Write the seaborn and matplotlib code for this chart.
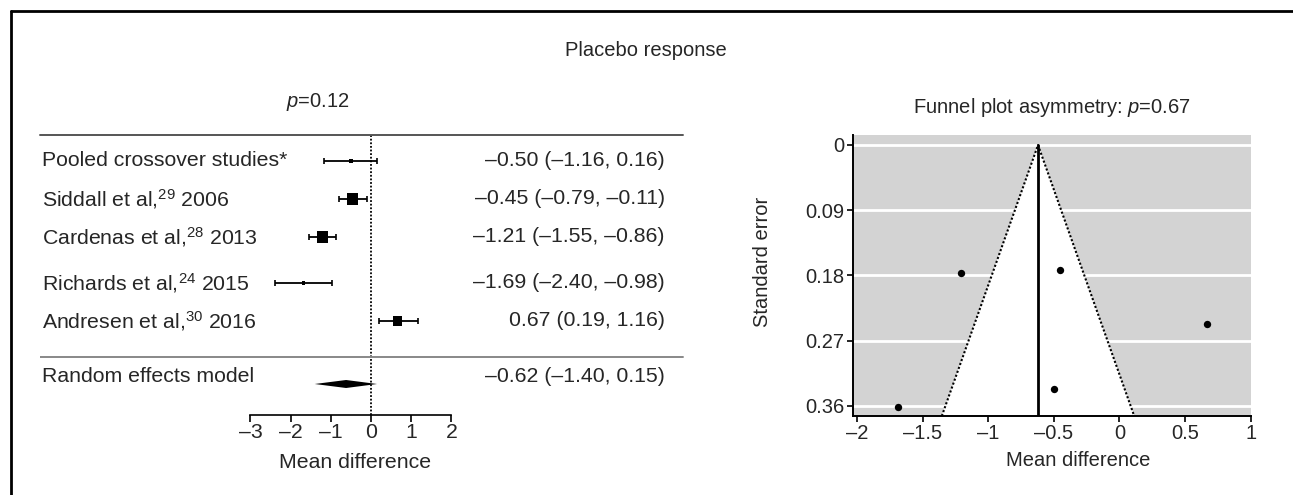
import numpy as np
import pandas as pd
import matplotlib.pyplot as plt
import seaborn as sns
from matplotlib.lines import Line2D

sns.set_theme(style="white")
plt.rcParams['font.family'] = ['Liberation Sans', 'DejaVu Sans']
plt.rcParams['mathtext.fontset'] = 'custom'
plt.rcParams['mathtext.rm'] = 'Liberation Sans'
plt.rcParams['mathtext.it'] = 'Liberation Sans:italic'

# --- dados ---
studies = ["Pooled crossover studies*",
           r"Siddall et al,$^{\mathregular{29}}$ 2006",
           r"Cardenas et al,$^{\mathregular{28}}$ 2013",
           r"Richards et al,$^{\mathregular{24}}$ 2015",
           r"Andresen et al,$^{\mathregular{30}}$ 2016"]
mean_diff = [-0.50, -0.45, -1.21, -1.69, 0.67]
ci_low = [-1.16, -0.79, -1.55, -2.40, 0.19]
ci_high = [0.16, -0.11, -0.86, -0.98, 1.16]
box_weight = [9, 63, 63, 5, 42]
std_err = [0.337, 0.173, 0.176, 0.362, 0.247]
re_md, re_low, re_high = -0.62, -1.40, 0.15
forest_ticks = [-3, -2, -1, 0, 1, 2]
funnel_xticks = [-2, -1.5, -1, -0.5, 0, 0.5, 1]
funnel_yticks = [0, 0.09, 0.18, 0.27, 0.36]

W, H = 1293, 495
FS = 14.5
FS_ROW = 15.3


def dash(v, fmt="{:.2f}"):
    return fmt.format(v).replace("-", "\u2013")


def ci_text(m, lo, hi):
    return f"{dash(m)} ({dash(lo)}, {dash(hi)})"


fig = plt.figure(figsize=(W / 100, H / 100), dpi=100)

# --- GRÁFICO 1: forest plot ---
ax1 = fig.add_axes([40 / W, (H - 415) / H, 650 / W, 280 / H])
ax1.set_xlim((40 - 371) / 40.2, (690 - 371) / 40.2)
ax1.set_ylim(415, 135)

row_y = [161, 199, 237, 283, 321]
df = pd.DataFrame({'md': mean_diff, 'row': row_y, 'w': box_weight})

ax1.errorbar(mean_diff, row_y,
             xerr=[np.array(mean_diff) - np.array(ci_low), np.array(ci_high) - np.array(mean_diff)],
             fmt='none', ecolor='black', elinewidth=1.3, capsize=2.5, capthick=1.2, zorder=2)
sns.scatterplot(data=df, x='md', y='row', size='w', sizes=(5, 63), size_norm=(5, 63),
                marker='s', color='black', linewidth=0, legend=False, ax=ax1, zorder=3)

trans = ax1.get_yaxis_transform()
for lab, y, m, lo, hi in zip(studies, row_y, mean_diff, ci_low, ci_high):
    ax1.text(0.003, y, lab, transform=trans, va='center', ha='left', fontsize=FS_ROW)
    ax1.text(0.9615, y, ci_text(m, lo, hi), transform=trans, va='center', ha='right', fontsize=FS_ROW)

ax1.text(0.003, 376, "Random effects model", transform=trans, va='center', ha='left', fontsize=FS_ROW)
ax1.text(0.9615, 376, ci_text(re_md, re_low, re_high), transform=trans, va='center', ha='right',
         fontsize=FS_ROW)
ax1.fill([re_low, re_md, re_high, re_md], [384, 380, 384, 388], color='black', lw=0, zorder=3)

ax1.axhline(135, xmin=0, xmax=0.99, color='#555555', lw=1.4, clip_on=False)
ax1.axhline(357, xmin=0, xmax=0.99, color='#888888', lw=1.4)
ax1.axvline(0, ls=(0, (1, 1)), color='black', lw=1.3, zorder=1)

for s in ['left', 'right', 'top']:
    ax1.spines[s].set_visible(False)
ax1.spines['bottom'].set_bounds(forest_ticks[0], forest_ticks[-1])
ax1.spines['bottom'].set_color('black')
ax1.spines['bottom'].set_linewidth(1.2)
ax1.set_xticks(forest_ticks)
ax1.set_xticklabels([dash(t, "{:d}") for t in forest_ticks], fontsize=FS_ROW)
ax1.set_yticks([])
ax1.tick_params(axis='x', bottom=True, length=5, width=1.2, color='black', direction='out', pad=1)
ax1.set_xlabel('')
ax1.set_ylabel('')

# --- GRÁFICO 2: funnel plot ---
ax2 = fig.add_axes([853 / W, (H - 416) / H, 398 / W, 281 / H])
ybot = 0.374
ax2.set_xlim(-2.03, 1.003)
ax2.set_ylim(ybot, -0.0138)
ax2.set_facecolor('#d3d3d3')
ax2.set_axisbelow(True)
ax2.grid(axis='y', color='white', lw=2)
ax2.grid(axis='x', visible=False)

left_edge = re_md - 1.96 * ybot
right_edge = re_md + 1.96 * ybot
ax2.fill([left_edge, re_md, right_edge], [ybot, 0, ybot], color='white', lw=0, zorder=1)
ax2.plot([left_edge, re_md, right_edge], [ybot, 0, ybot], ls=(0, (1, 1)), color='black', lw=1.5, zorder=2)
ax2.plot([re_md, re_md], [0, ybot], color='black', lw=2, zorder=2)
sns.scatterplot(x=mean_diff, y=std_err, color='black', s=28, linewidth=0, ax=ax2, zorder=3)

for s in ['right', 'top']:
    ax2.spines[s].set_visible(False)
for s in ['left', 'bottom']:
    ax2.spines[s].set_color('black')
    ax2.spines[s].set_linewidth(1.4)
ax2.set_xticks(funnel_xticks)
ax2.set_xticklabels([dash(t, "{:g}") for t in funnel_xticks], fontsize=FS)
ax2.set_yticks(funnel_yticks)
ax2.set_yticklabels([f"{t:g}" for t in funnel_yticks], fontsize=FS)
ax2.tick_params(axis='both', bottom=True, left=True, length=4, width=1.2, color='black',
                direction='out', pad=2)
ax2.set_xlabel('')
ax2.set_ylabel('')

# --- textos ---
fig.text(646 / W, 1 - 50 / H, "Placebo response", ha='center', va='center', fontsize=FS)
fig.text(318 / W, 1 - 102 / H, r"$\it{p}$=0.12", ha='center', va='center', fontsize=FS)
fig.text(1052 / W, 1 - 107 / H, r"Funnel plot asymmetry: $\it{p}$=0.67", ha='center', va='center', fontsize=FS)
fig.text(355 / W, 1 - 462 / H, "Mean difference", ha='center', va='center', fontsize=FS_ROW)
fig.text(1078 / W, 1 - 460 / H, "Mean difference", ha='center', va='center', fontsize=FS)
fig.text(763 / W, 1 - 262 / H, "Standard error", ha='center', va='center', rotation=90, fontsize=FS)

# moldura
fig.add_artist(Line2D([11 / W, 1], [1 - 11 / H, 1 - 11 / H], color='black', lw=2))
fig.add_artist(Line2D([11 / W, 11 / W], [0, 1 - 11 / H], color='black', lw=2))

fig.savefig('out.png', dpi=100)
